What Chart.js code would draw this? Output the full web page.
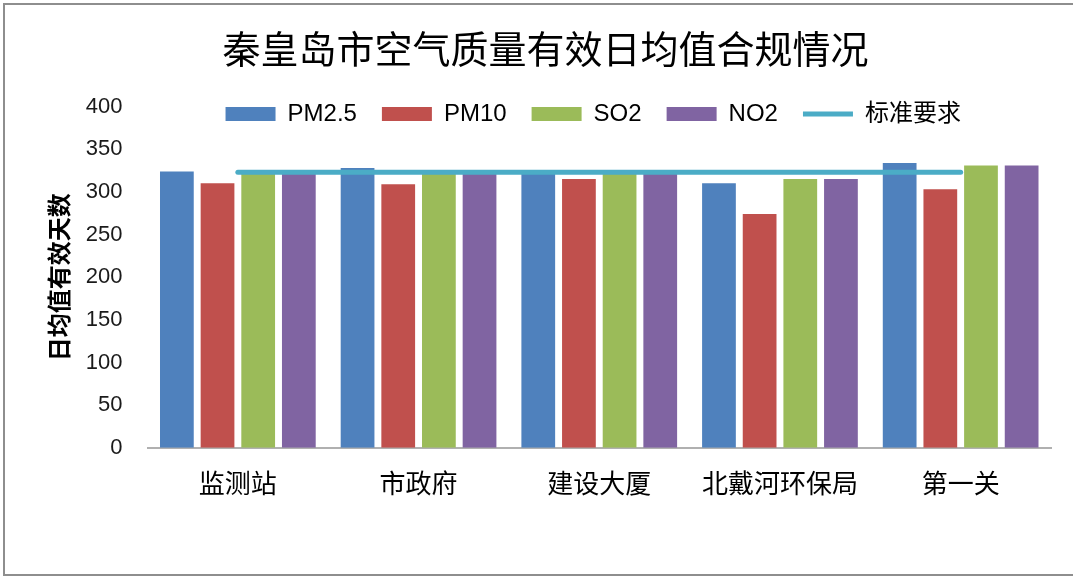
<!DOCTYPE html>
<html>
<head>
<meta charset="utf-8">
<script src="https://cdn.jsdelivr.net/npm/chart.js@4/dist/chart.umd.min.js"></script>
<style>
  html, body { margin: 0; padding: 0; background: #fff; overflow: hidden; }
  #wrap { position: relative; width: 1073px; height: 581px; }
  #frame {
    position: absolute; left: 3px; top: 3px; width: 1100px; height: 573px;
    border: 2px solid #8e8e8e; border-right: none; box-sizing: border-box;
    pointer-events: none;
  }
  canvas { position: absolute; left: 0; top: 0; }
</style>
</head>
<body>
<div id="wrap">
  <canvas id="c" width="1073" height="581"></canvas>
  <div id="frame"></div>
</div>
<script>
const categories = ['监测站', '市政府', '建设大厦', '北戴河环保局', '第一关'];
const pm25 = [324, 328, 324, 310, 334];
const pm10 = [310, 309, 315, 274, 303];
const so2 = [324, 324, 324, 315, 331];
const no2 = [324, 324, 324, 315, 331];
const standard = [323, 323, 323, 323, 323];
const yTicks = [0, 50, 100, 150, 200, 250, 300, 350, 400];

const fontLatin = "'Liberation Sans', 'Noto Sans CJK SC', sans-serif";
const fontCjk = "'Noto Sans CJK SC', sans-serif";

// excel puts the legend inside the top of the plot, centred over it
const legendMove = {
  id: 'legendMove',
  afterLayout(chart) {
    const lg = chart.legend, a = chart.chartArea;
    if (!lg) return;
    const pad = lg.options.labels.padding;
    const dy = 102 - (lg.top + pad);
    const dx = (a.left + a.right) / 2 - 6 - (lg.left + lg.right) / 2;
    lg.top += dy; lg.bottom += dy;
    lg.left += dx; lg.right += dx;
  }
};

let chart = new Chart(document.getElementById('c'), {
  type: 'bar',
  data: {
    labels: categories,
    datasets: [
      { label: 'PM2.5', data: pm25, backgroundColor: '#4f81bd', pointStyle: 'rect' },
      { label: 'PM10', data: pm10, backgroundColor: '#c0504d', pointStyle: 'rect' },
      { label: 'SO2', data: so2, backgroundColor: '#9bbb59', pointStyle: 'rect' },
      { label: 'NO2', data: no2, backgroundColor: '#8064a2', pointStyle: 'rect' },
      {
        type: 'line',
        label: '标准要求',
        data: standard,
        borderColor: '#4bacc6',
        backgroundColor: '#4bacc6',
        borderWidth: 5,
        borderCapStyle: 'round',
        pointRadius: 0,
        pointStyle: 'line',
        order: -1
      }
    ]
  },
  options: {
    responsive: false,
    animation: false,
    layout: { padding: { top: 4, left: 40, right: 22, bottom: 62 } },
    datasets: {
      bar: { categoryPercentage: 0.9, barPercentage: 0.83, borderWidth: 0 }
    },
    plugins: {
      title: {
        display: true,
        text: '秦皇岛市空气质量有效日均值合规情况',
        color: '#000',
        font: { family: fontCjk, size: 38, weight: 'normal' },
        padding: { top: 22, bottom: -24 }
      },
      legend: {
        position: 'top',
        align: 'center',
        labels: {
          usePointStyle: true,
          pointStyleWidth: 50,
          boxHeight: 14,
          padding: 25,
          color: '#000',
          font: { family: fontLatin, size: 24 },
          sort: (a, b) => a.datasetIndex - b.datasetIndex
        }
      },
      tooltip: { enabled: false }
    },
    scales: {
      x: {
        grid: { display: false, drawTicks: false },
        border: { display: true, color: '#b0b0b0', width: 2 },
        ticks: {
          color: '#000',
          padding: 20,
          font: { family: fontCjk, size: 26 }
        }
      },
      y: {
        min: 0,
        max: 400,
        afterBuildTicks: (axis) => { axis.ticks = yTicks.map(v => ({ value: v })); },
        grid: { display: false, drawTicks: false },
        border: { display: false },
        ticks: {
          color: '#1a1a1a',
          padding: 25,
          font: { family: fontLatin, size: 22 }
        },
        title: {
          display: true,
          text: '日均值有效天数',
          color: '#000',
          font: { family: fontCjk, size: 24, weight: 'bold' },
          padding: { top: 4, bottom: -12 }
        }
      }
    }
  },
  plugins: [legendMove]
});
</script>
</body>
</html>
